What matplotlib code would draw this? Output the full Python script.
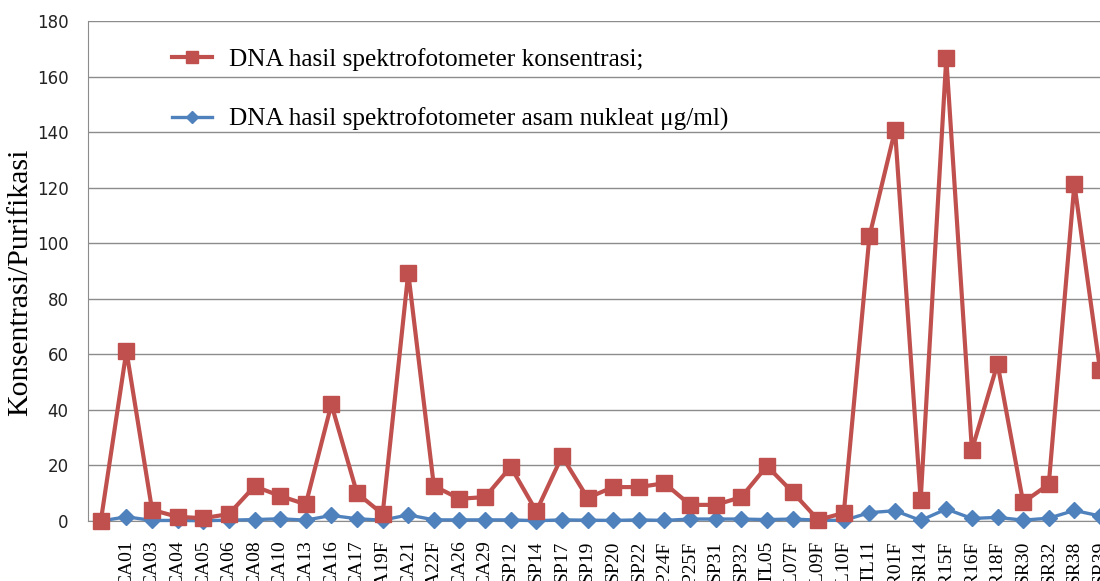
import matplotlib
matplotlib.use("Agg")
import matplotlib.pyplot as plt
import numpy as np

categories = ["", "CA01", "CA03", "CA04", "CA05", "CA06", "CA08", "CA10", "CA13", "CA16",
              "CA17", "CA19F", "CA21", "CA22F", "CA26", "CA29", "SP12", "SP14", "SP17", "SP19",
              "SP20", "SP22", "SP24F", "SP25F", "SP31", "SP32", "TL05", "TL07F", "TL09F", "TL10F",
              "TL11", "SR01F", "SR14", "SR15F", "SR16F", "SR18F", "SR30", "SR32", "SR38", "SR39"]

konsentrasi = [0, 61.2, 4, 1.5, 1, 2.5, 12.5, 9, 6, 42,
               10, 2.5, 89.3, 12.6, 8, 8.6, 19.5, 3.5, 23.3, 8.3,
               12.2, 12.2, 13.6, 5.8, 5.8, 8.6, 19.8, 10.4, 0.4, 2.9,
               102.5, 140.7, 7.6, 166.7, 25.6, 56.6, 6.7, 13.2, 121.3, 54.5]

asam_nukleat = [0, 1.5, 0.2, 0.2, 0.1, 0.3, 0.5, 0.8, 0.3, 2.0,
                0.8, 0.3, 2.2, 0.4, 0.4, 0.4, 0.4, 0.1, 0.4, 0.3,
                0.2, 0.4, 0.2, 0.7, 0.7, 0.7, 0.5, 0.7, 0.3, 0.2,
                3.0, 3.7, 0.2, 4.3, 0.9, 1.3, 0.3, 1.0, 3.8, 1.8]

label_red = "DNA hasil spektrofotometer konsentrasi;"
label_blue = "DNA hasil spektrofotometer asam nukleat \u03bcg/ml)"

RED = "#C0504D"
BLUE = "#4F81BD"
GRID = "#8C8C8C"

fig = plt.figure(figsize=(11, 5.81), dpi=100)
ax = fig.add_axes([0.08, 0.1033, 0.92, 0.8606])

x = np.arange(len(categories))
ax.plot(x, asam_nukleat, color=BLUE, lw=2.4, marker="D", markersize=8,
        markerfacecolor=BLUE, markeredgecolor=BLUE, label=label_blue, zorder=3, clip_on=False)
ax.plot(x, konsentrasi, color=RED, lw=3, marker="s", markersize=11,
        markerfacecolor=RED, markeredgecolor=RED, label=label_red, zorder=4, clip_on=False)

ax.set_xlim(-0.5, len(categories) - 1)
ax.set_ylim(0, 180)
ax.set_yticks(np.arange(0, 181, 20))
ax.yaxis.grid(True, color=GRID, lw=1)
ax.set_axisbelow(True)

for s in ["top", "right"]:
    ax.spines[s].set_visible(False)
ax.spines["left"].set_color(GRID)
ax.spines["bottom"].set_color(GRID)

ax.tick_params(axis="y", length=0, pad=14, labelsize=12, labelcolor="#222222")
ax.set_xticks(x)
ax.set_xticklabels(categories, rotation=90, fontfamily="Liberation Serif", fontsize=14,
                   va="top")
ax.tick_params(axis="x", length=0, pad=14)

ax.set_ylabel("Konsentrasi/Purifikasi", fontfamily="Liberation Serif", fontsize=21.5)
ax.yaxis.set_label_coords(-0.054, 0.478)

handles, labels = ax.get_legend_handles_labels()
leg = ax.legend(handles[::-1], labels[::-1], loc="upper left",
                bbox_to_anchor=(0.083, 0.946), frameon=False, borderpad=0,
                borderaxespad=0,
                prop={"family": "Liberation Serif", "size": 18.2},
                labelspacing=1.45, handlelength=1.6, handletextpad=0.64,
                markerscale=0.75)

fig.savefig("out.png", dpi=100)
